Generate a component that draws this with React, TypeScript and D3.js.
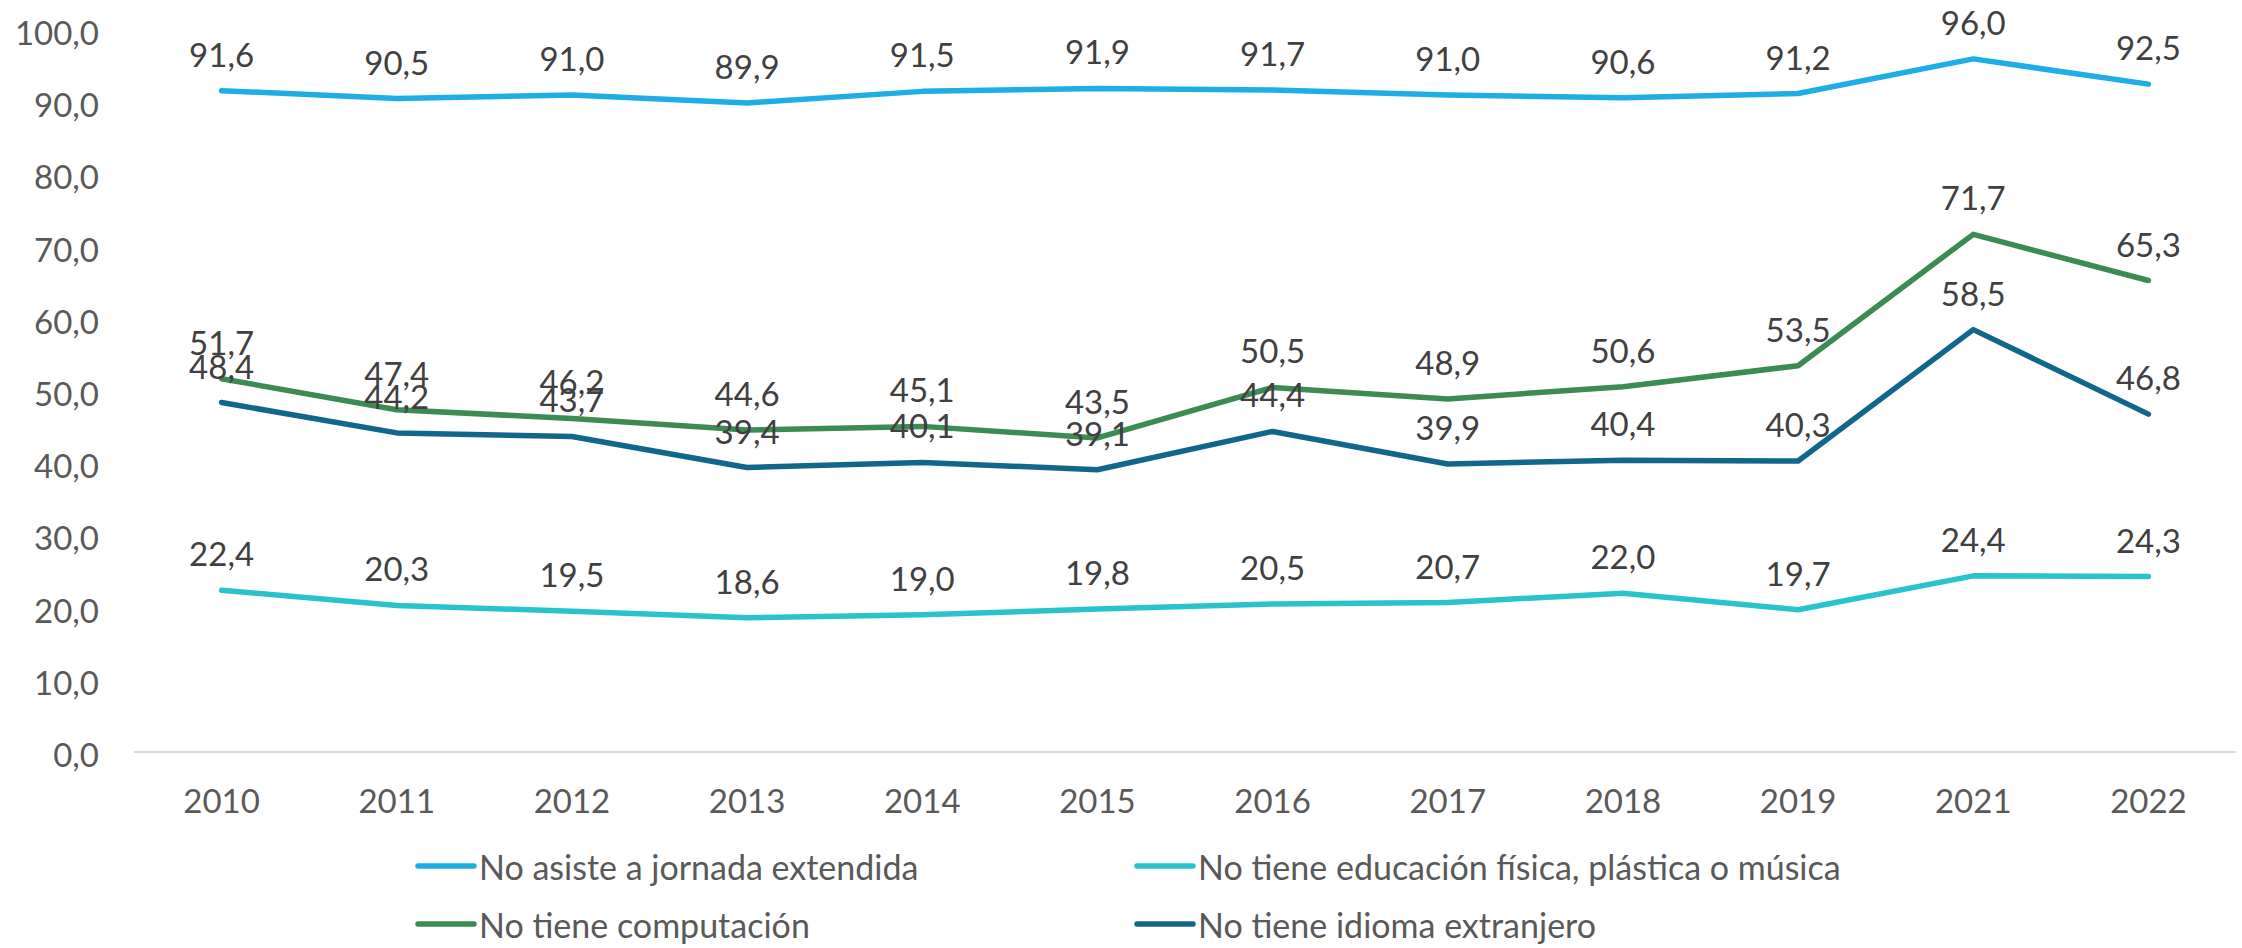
import React from 'react';
import * as d3 from 'd3';

// years on the x axis
const years = ['2010', '2011', '2012', '2013', '2014', '2015', '2016', '2017', '2018', '2019', '2021', '2022'];

// series values (percent)
const jornadaExtendida = [91.6, 90.5, 91.0, 89.9, 91.5, 91.9, 91.7, 91.0, 90.6, 91.2, 96.0, 92.5];
const educacionFisica = [22.4, 20.3, 19.5, 18.6, 19.0, 19.8, 20.5, 20.7, 22.0, 19.7, 24.4, 24.3];
const computacion = [51.7, 47.4, 46.2, 44.6, 45.1, 43.5, 50.5, 48.9, 50.6, 53.5, 71.7, 65.3];
const idiomaExtranjero = [48.4, 44.2, 43.7, 39.4, 40.1, 39.1, 44.4, 39.9, 40.4, 40.3, 58.5, 46.8];

const yTicks = [0, 10, 20, 30, 40, 50, 60, 70, 80, 90, 100];

const series = [
  { name: 'No asiste a jornada extendida', values: jornadaExtendida, color: '#1EADE4' },
  { name: 'No tiene educación física, plástica o música', values: educacionFisica, color: '#28C3CB' },
  { name: 'No tiene computación', values: computacion, color: '#3C8A54' },
  { name: 'No tiene idioma extranjero', values: idiomaExtranjero, color: '#10678A' },
];

const W = 2242;
const H = 948;
const margin = { top: 30, right: 6, bottom: 196, left: 134 };
const FONT = 'Lato, "Open Sans", sans-serif';

const fmt = (v: number) => d3.format('.1f')(v).replace('.', ',');

export default function App() {
  const x = d3
    .scaleBand()
    .domain(years)
    .range([margin.left, W - margin.right]);

  const y = d3
    .scaleLinear()
    .domain([0, 100])
    .range([H - margin.bottom, margin.top]);

  const line = d3
    .line<number>()
    .x((d, i) => (x(years[i]) as number) + x.bandwidth() / 2)
    .y((d) => y(d));

  // legend layout: two columns, two rows
  const legendCols = [418, 1137];
  const legendRows = [866, 924];

  return (
    <svg
      width={W}
      height={H}
      style={{ position: 'absolute', left: 0, top: 0, background: '#fff' }}
      fontFamily={FONT}
    >
      {/* y axis labels */}
      <g>
        {yTicks.map((t) => (
          <text
            key={t}
            x={99}
            y={y(t) + 2}
            textAnchor="end"
            dominantBaseline="central"
            fontSize={33}
            fill="#595959"
          >
            {fmt(t)}
          </text>
        ))}
      </g>

      {/* baseline */}
      <line
        x1={margin.left}
        x2={W - margin.right}
        y1={y(0)}
        y2={y(0)}
        stroke="#D9D9D9"
        strokeWidth={2}
      />

      {/* x axis labels */}
      <g>
        {years.map((yr) => (
          <text
            key={yr}
            x={(x(yr) as number) + x.bandwidth() / 2}
            y={800}
            textAnchor="middle"
            dominantBaseline="central"
            fontSize={33}
            fill="#595959"
          >
            {yr}
          </text>
        ))}
      </g>

      {/* lines */}
      {series.map((s) => (
        <path
          key={s.name}
          d={line(s.values) || ''}
          fill="none"
          stroke={s.color}
          strokeWidth={5.5}
          strokeLinejoin="round"
          strokeLinecap="round"
        />
      ))}

      {/* data labels */}
      {series.map((s) => (
        <g key={s.name + '-lbl'}>
          {s.values.map((v, i) => (
            <text
              key={i}
              x={(x(years[i]) as number) + x.bandwidth() / 2}
              y={y(v) - 37}
              textAnchor="middle"
              dominantBaseline="central"
              fontSize={33}
              fill="#404040"
            >
              {fmt(v)}
            </text>
          ))}
        </g>
      ))}

      {/* legend */}
      <g>
        {series.map((s, i) => {
          const lx = legendCols[i % 2];
          const ly = legendRows[Math.floor(i / 2)];
          return (
            <g key={s.name + '-leg'}>
              <line
                x1={lx}
                x2={lx + 56}
                y1={ly}
                y2={ly}
                stroke={s.color}
                strokeWidth={5.5}
                strokeLinecap="round"
              />
              <text
                x={lx + 61}
                y={ly}
                dominantBaseline="central"
                fontSize={34}
                fill="#595959"
              >
                {s.name}
              </text>
            </g>
          );
        })}
      </g>
    </svg>
  );
}
